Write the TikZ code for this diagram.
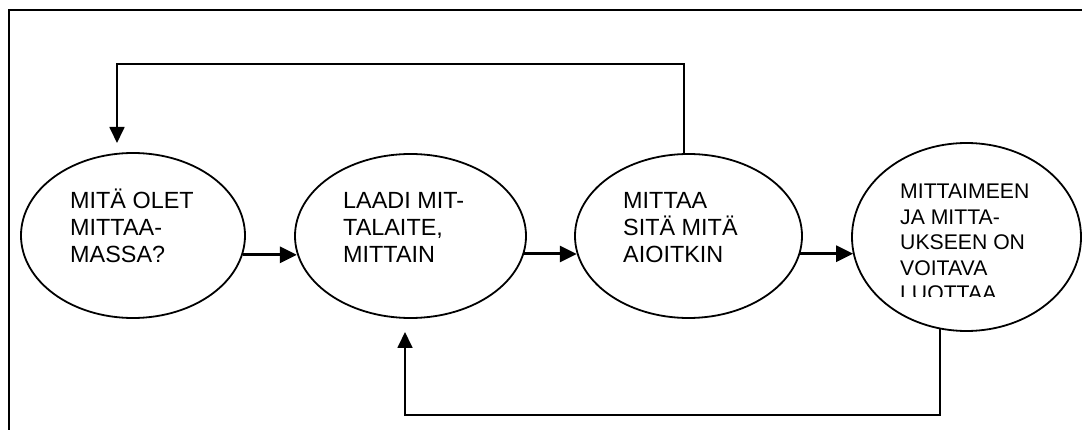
\documentclass[tikz,border=0pt]{standalone}
\usepackage{fontspec}
\setmainfont{Liberation Sans}
\usetikzlibrary{arrows.meta,shapes.geometric}
\begin{document}
\begin{tikzpicture}[x=1pt,y=-1pt,
  bubble/.style={ellipse,draw,line width=1.8pt,inner sep=0pt},
  label1/.style={anchor=base west,inner sep=0pt},
  flow/.style={line width=3pt,-{Triangle[length=17pt,width=16pt]}},
  back/.style={line width=1.8pt,-{Triangle[length=16pt,width=15pt]}},
  frameline/.style={line width=2.4pt}]
\useasboundingbox (0,0) rectangle (1082,430);
% frame
\coordinate (fr1) at (1090,10);
\coordinate (fr2) at (9,10);
\coordinate (fr3) at (9,440);
\draw[frameline] (fr1) -- (fr2) -- (fr3);
% ellipses
\node[bubble,minimum width=224pt,minimum height=165pt] (e1) at (133,235.5) {};
\node[bubble,minimum width=231pt,minimum height=164pt] (e2) at (410.5,236) {};
\node[bubble,minimum width=227pt,minimum height=164pt] (e3) at (688.5,236) {};
\node[bubble,minimum width=229pt,minimum height=188pt] (e4) at (966.5,237) {};
% texts
\node[label1] (t1) at (70,209) {\parbox[t]{150pt}{\fontsize{23.4}{27}\selectfont MITÄ OLET\\MITTAA-\\MASSA?}};
\node[label1] (t2) at (343,209) {\parbox[t]{150pt}{\fontsize{23.4}{27}\selectfont LAADI MIT-\\TALAITE,\\MITTAIN}};
\node[label1] (t3) at (623,209) {\parbox[t]{150pt}{\fontsize{23.4}{27}\selectfont MITTAA\\SITÄ MITÄ\\AIOITKIN}};
\begin{scope}
\clip (880,170) rectangle (1070,297);
\node[label1] (t4) at (900,199) {\parbox[t]{160pt}{\fontsize{21.2}{25.5}\selectfont MITTAIMEEN\\JA MITTA-\\UKSEEN ON\\VOITAVA\\LUOTTAA}};
\end{scope}
% forward arrows (kept horizontal)
\draw[flow] (e1.-10.16) -- (e2.189.6 |- e1.-10.16);
\draw[flow] (e2.-9.6) -- (e3.189.77 |- e2.-9.6);
\draw[flow] (e3.-9.77) -- (e4.189.1 |- e3.-9.77);
% top feedback
\coordinate (a1) at (117,143);
\draw[back] (e3.93) |- (117,64) -- (a1);
% bottom feedback
\coordinate (a2) at (405,332);
\draw[back] (e4.254) |- (405,415) -- (a2);
\end{tikzpicture}
\end{document}
